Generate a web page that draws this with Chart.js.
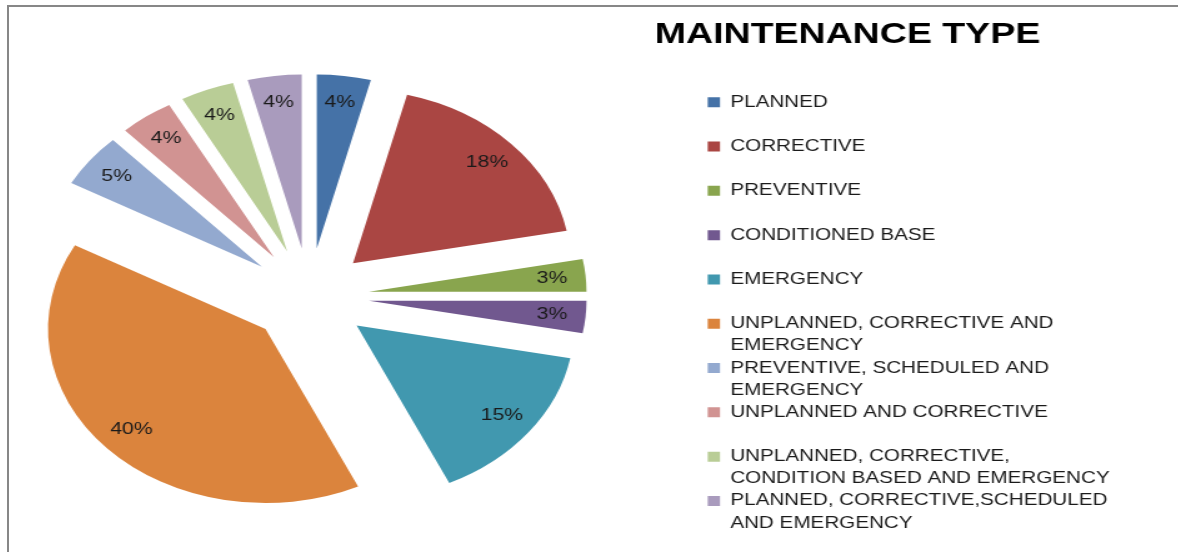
<!DOCTYPE html>
<html>
<head>
<meta charset="utf-8">
<title>Maintenance type</title>
<script src="https://cdn.jsdelivr.net/npm/chart.js@4.4.0/dist/chart.umd.min.js"></script>
<style>
  html, body { margin: 0; padding: 0; background: #fff; }
  body { width: 1178px; height: 552px; overflow: hidden; position: relative; }
  #frame {
    position: absolute; left: 7px; top: 5px; width: 1400px; height: 800px;
    border-top: 2px solid #878787; border-left: 2px solid #878787;
  }
  /* the reference picture is stretched sideways, so the canvas is too */
  #pie {
    position: absolute; left: 0; top: 0;
    transform-origin: 0 0;
    transform: translateX(-89px) scaleX(1.25);
  }
</style>
</head>
<body>
<div id="frame"></div>
<canvas id="pie" width="1014" height="543"></canvas>
<script>
const categories = [
  ['PLANNED', ''],
  ['CORRECTIVE', ''],
  ['PREVENTIVE', ''],
  ['CONDITIONED BASE', ''],
  ['EMERGENCY', ''],
  ['UNPLANNED, CORRECTIVE AND', 'EMERGENCY'],
  ['PREVENTIVE, SCHEDULED AND', 'EMERGENCY'],
  ['UNPLANNED AND CORRECTIVE', ''],
  ['UNPLANNED, CORRECTIVE,', 'CONDITION BASED AND EMERGENCY'],
  ['PLANNED, CORRECTIVE,SCHEDULED', 'AND EMERGENCY']
];
const shares = [4, 18, 3, 3, 15, 40, 5, 4, 4, 4];
const sliceColors = [
  '#4572A7', '#AA4643', '#89A54E', '#71588F', '#4198AF',
  '#DB843D', '#93A9CF', '#D19392', '#B9CD96', '#A99BBD'
];
const chartTitle = 'MAINTENANCE TYPE';

const FONT = '"Liberation Sans", Arial, sans-serif';
const explode = 48; // px each slice is pulled out from the centre

// chart.js grows small slices when `offset` is used, so push the arcs out by hand
const explodeSlices = {
  id: 'explodeSlices',
  beforeDatasetDraw(chart, args) {
    const ctx = chart.ctx;
    args.meta.data.forEach(arc => {
      const p = arc.getProps(['startAngle', 'endAngle'], true);
      const mid = (p.startAngle + p.endAngle) / 2;
      ctx.save();
      ctx.translate(Math.cos(mid) * explode, Math.sin(mid) * explode);
      arc.draw(ctx);
      ctx.restore();
    });
    return false;
  }
};

// percent labels near the outer end of each slice
const sliceLabels = {
  id: 'sliceLabels',
  afterDatasetsDraw(chart) {
    const ctx = chart.ctx;
    const meta = chart.getDatasetMeta(0);
    ctx.save();
    ctx.font = '17px ' + FONT;
    ctx.fillStyle = '#1a1a1a';
    ctx.textAlign = 'center';
    ctx.textBaseline = 'middle';
    meta.data.forEach((arc, i) => {
      const p = arc.getProps(['x', 'y', 'startAngle', 'endAngle', 'outerRadius'], true);
      const mid = (p.startAngle + p.endAngle) / 2;
      const dist = explode + p.outerRadius * 0.845;
      ctx.fillText(shares[i] + '%', p.x + Math.cos(mid) * dist, p.y + Math.sin(mid) * dist);
    });
    ctx.restore();
  }
};

// legend box is narrower than its longest labels; let them run past instead of clipping
const legendNoClip = {
  id: 'legendNoClip',
  beforeDraw(chart) {
    if (chart.legend) chart.legend.right = chart.width;
  }
};

new Chart(document.getElementById('pie'), {
  type: 'pie',
  data: {
    labels: categories,
    datasets: [{
      data: shares,
      backgroundColor: sliceColors,
      borderWidth: 0,
      radius: 174
    }]
  },
  options: {
    responsive: false,
    animation: false,
    devicePixelRatio: 1,
    layout: { padding: { top: 8, right: 110.6, left: 0, bottom: 0 } },
    plugins: {
      tooltip: { enabled: false },
      title: {
        display: true,
        text: chartTitle,
        align: 'end',
        color: '#000',
        font: { family: FONT, size: 30, weight: 'bold', lineHeight: 1 },
        padding: { top: 11.4, bottom: 0 }
      },
      legend: {
        position: 'right',
        align: 'start',
        maxWidth: 266.2,
        // blank title only reserves the space above the first entry
        title: {
          display: true,
          text: ' ',
          font: { family: FONT, size: 10, lineHeight: 1.2 },
          padding: { top: 0, bottom: 74 }
        },
        labels: {
          boxWidth: 10,
          boxHeight: 10,
          padding: 0,
          color: '#1a1a1a',
          font: { family: FONT, size: 16.5, lineHeight: 1.3424 }
        }
      }
    }
  },
  plugins: [explodeSlices, sliceLabels, legendNoClip]
});
</script>
</body>
</html>
